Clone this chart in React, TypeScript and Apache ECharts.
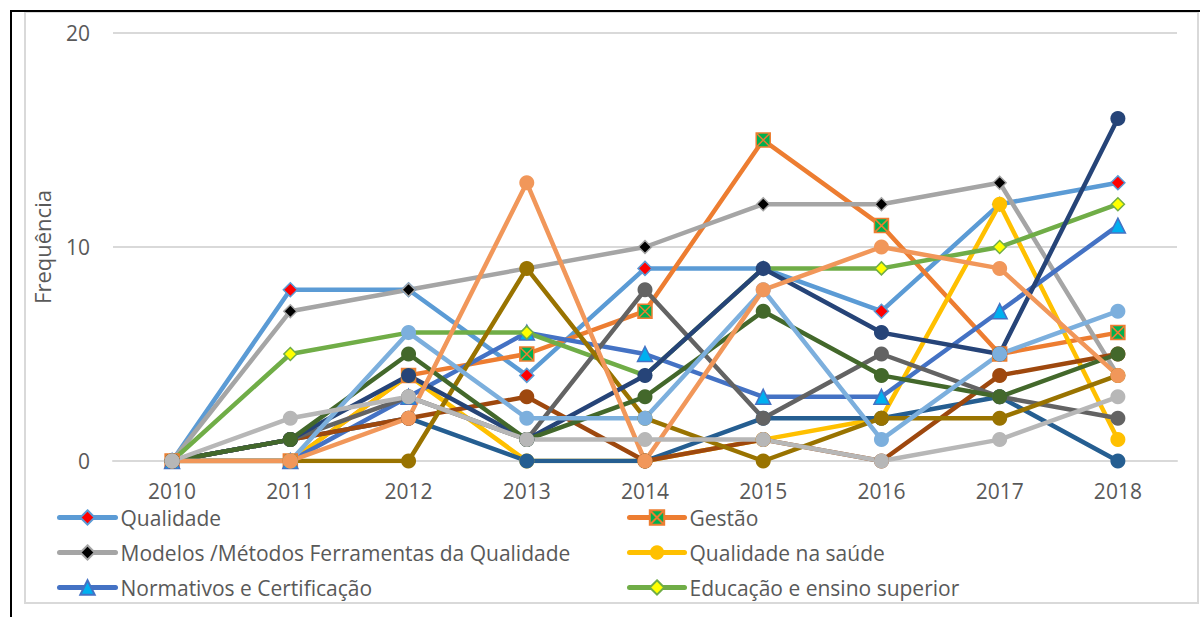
import React, { useEffect, useRef } from "react";
import * as echarts from "echarts";

const years = ["2010", "2011", "2012", "2013", "2014", "2015", "2016", "2017", "2018"];
const yTicks = [0, 10, 20];
const yAxisName = "Frequência";

const qualidade = [0, 8, 8, 4, 9, 9, 7, 12, 13];
const gestao = [0, 0, 4, 5, 7, 15, 11, 5, 6];
const modelos = [0, 7, 8, 9, 10, 12, 12, 13, 4];
const saude = [0, 0, 4, 0, 0, 1, 2, 12, 1];
const normativos = [0, 0, 3, 6, 5, 3, 3, 7, 11];
const educacao = [0, 5, 6, 6, 4, 9, 9, 10, 12];
const serie7 = [0, 1, 2, 0, 0, 2, 2, 3, 0];
const serie8 = [0, 1, 2, 3, 0, 1, 0, 4, 5];
const serie9 = [0, 1, 3, 1, 8, 2, 5, 3, 2];
const serie10 = [0, 0, 0, 9, 2, 0, 2, 2, 4];
const serie11 = [0, 1, 4, 1, 4, 9, 6, 5, 16];
const serie12 = [0, 1, 5, 1, 3, 7, 4, 3, 5];
const serie13 = [0, 0, 6, 2, 2, 8, 1, 5, 7];
const serie14 = [0, 0, 2, 13, 0, 8, 10, 9, 4];
const serie15 = [0, 2, 3, 1, 1, 1, 0, 1, 3];

const legendLeft = ["Qualidade", "Modelos /Métodos Ferramentas da Qualidade", "Normativos e Certificação"];
const legendRight = ["Gestão", "Qualidade na saúde", "Educação e ensino superior"];

const FONT = "'Open Sans', sans-serif";
const TEXT = "#595959";

function mk(name: string, data: number[], line: string, symbol: string, size: number, fill: string, border?: string, bw = 0) {
  return {
    name,
    type: "line",
    data,
    symbol,
    symbolSize: size,
    lineStyle: { color: line, width: 4.5, cap: "round", join: "round" },
    itemStyle: { color: fill, borderColor: border ?? fill, borderWidth: bw },
    emphasis: { disabled: true },
  };
}

export default function App() {
  const ref = useRef<HTMLDivElement>(null);
  useEffect(() => {
    if (!ref.current) return;
    const chart = echarts.init(ref.current, undefined, { renderer: "svg" });
    const xMark = "path://M0,0L10,0L10,10L0,10ZM0,0L10,10M10,0L0,10";
    const series = [
      mk("Qualidade", qualidade, "#5B9BD5", "diamond", 14, "#FF0000", "#5B9BD5", 1.5),
      mk("Gestão", gestao, "#ED7D31", xMark, 14, "#00B050", "#ED7D31", 1.5),
      mk("Modelos /Métodos Ferramentas da Qualidade", modelos, "#A5A5A5", "diamond", 13, "#000000", "#A5A5A5", 1.5),
      mk("Qualidade na saúde", saude, "#FFC000", "circle", 15, "#FFC000"),
      mk("Normativos e Certificação", normativos, "#4472C4", "triangle", 15, "#00B0F0", "#4472C4", 1.5),
      mk("Educação e ensino superior", educacao, "#70AD47", "diamond", 13, "#FFFF00", "#70AD47", 1.5),
      mk("Série 7", serie7, "#255E91", "circle", 15, "#255E91"),
      mk("Série 8", serie8, "#9E480E", "circle", 15, "#9E480E"),
      mk("Série 9", serie9, "#636363", "circle", 15, "#636363"),
      mk("Série 10", serie10, "#997300", "circle", 15, "#997300"),
      mk("Série 11", serie11, "#264478", "circle", 15, "#264478"),
      mk("Série 12", serie12, "#43682B", "circle", 15, "#43682B"),
      mk("Série 13", serie13, "#7CAFDD", "circle", 15, "#7CAFDD"),
      mk("Série 14", serie14, "#F1975A", "circle", 15, "#F1975A"),
      mk("Série 15", serie15, "#B7B7B7", "circle", 15, "#B7B7B7"),
    ];
    const legendBase = {
      orient: "vertical",
      top: 507,
      padding: 0,
      itemHeight: 18,
      itemGap: 14,
      selectedMode: false,
      lineStyle: { width: 5, cap: "round" },
      textStyle: { color: TEXT, fontSize: 21, fontFamily: FONT, lineHeight: 20 },
    };
    chart.setOption({
      animation: false,
      textStyle: { fontFamily: FONT },
      grid: { left: 113, right: 25, top: 33, bottom: 156, containLabel: false },
      xAxis: {
        type: "category",
        data: years,
        boundaryGap: true,
        axisLine: { show: true, lineStyle: { color: "#D9D9D9", width: 2 } },
        axisTick: { show: false },
        axisLabel: { color: TEXT, fontSize: 21, fontFamily: FONT, margin: 19 },
      },
      yAxis: {
        type: "value",
        min: yTicks[0],
        max: yTicks[yTicks.length - 1],
        interval: yTicks[1] - yTicks[0],
        name: yAxisName,
        nameLocation: "middle",
        nameGap: 60,
        nameTextStyle: { color: TEXT, fontSize: 22, fontFamily: FONT },
        axisLine: { show: false },
        axisTick: { show: false },
        axisLabel: { color: TEXT, fontSize: 21, fontFamily: FONT, margin: 23 },
        splitLine: { lineStyle: { color: "#D9D9D9", width: 2 } },
      },
      legend: [
        { ...legendBase, left: 57, itemWidth: 56, data: legendLeft },
        { ...legendBase, left: 627, itemWidth: 55, data: legendRight },
      ],
      graphic: [
        {
          type: "rect",
          shape: { x: 25, y: 12, width: 1173, height: 591 },
          style: { fill: "none", stroke: "#D9D9D9", lineWidth: 2 },
          silent: true,
        },
        {
          type: "polyline",
          shape: { points: [[11, 617], [11, 11], [1200, 11]] },
          style: { fill: "none", stroke: "#000000", lineWidth: 2 },
          silent: true,
        },
      ],
      series,
    });
    return () => chart.dispose();
  }, []);
  return (
    <div
      ref={ref}
      style={{ position: "fixed", left: 0, top: 0, width: 1202, height: 617, background: "#FFFFFF" }}
    />
  );
}
